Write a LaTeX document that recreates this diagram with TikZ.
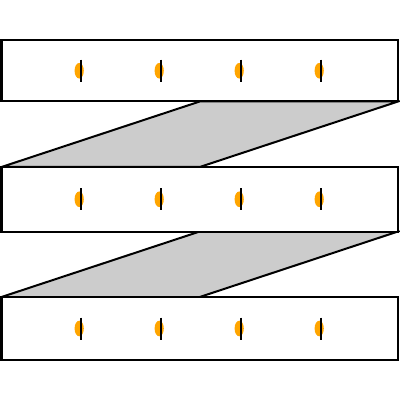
\documentclass[tikz,border=0pt]{standalone}
\usetikzlibrary{shapes.geometric}
\definecolor{dotorange}{RGB}{255,165,0}
\begin{document}
\begin{tikzpicture}[x=0.025cm,y=-0.025cm,line join=miter,
  slab/.style={draw=black,fill=white,line width=0.05cm,minimum width=396.5*0.025cm,inner sep=0pt,outer sep=0pt},
  band/.style={draw=black,fill=black!20,line width=0.05cm},
  dotor/.style={ellipse,fill=dotorange,minimum width=0.23cm,minimum height=0.39cm,inner sep=0pt},
  tick/.style={draw=black,line width=0.06cm}]
\useasboundingbox (0,0) rectangle (400,400);
\node[slab,minimum height=61.5*0.025cm] (r1) at (199.75,70.75) {};
\node[slab,minimum height=64.5*0.025cm] (r2) at (199.75,199.25) {};
\node[slab,minimum height=63*0.025cm] (r3) at (199.75,328.5) {};
\draw[band] (r1.south) -- (r1.south east) -- (r2.north) -- (r2.north west) -- cycle;
\draw[band] (r2.south) -- (r2.south east) -- (r3.north) -- (r3.north west) -- cycle;
\node[slab,minimum height=61.5*0.025cm] at (r1) {};
\node[slab,minimum height=64.5*0.025cm] at (r2) {};
\node[slab,minimum height=63*0.025cm] at (r3) {};
\foreach \r/\yy in {r1/70.75,r2/199.25,r3/328.5}{
  \foreach \xx in {80,160,240,320}{
    \node[dotor] (o-\r-\xx) at (\xx-0.8,\yy) {};
    \coordinate (t-\r-\xx) at (\xx+0.8,\yy-11);
    \coordinate (b-\r-\xx) at (\xx+0.8,\yy+11);
    \draw[tick] (t-\r-\xx) -- (b-\r-\xx);
  }
}
\end{tikzpicture}
\end{document}
